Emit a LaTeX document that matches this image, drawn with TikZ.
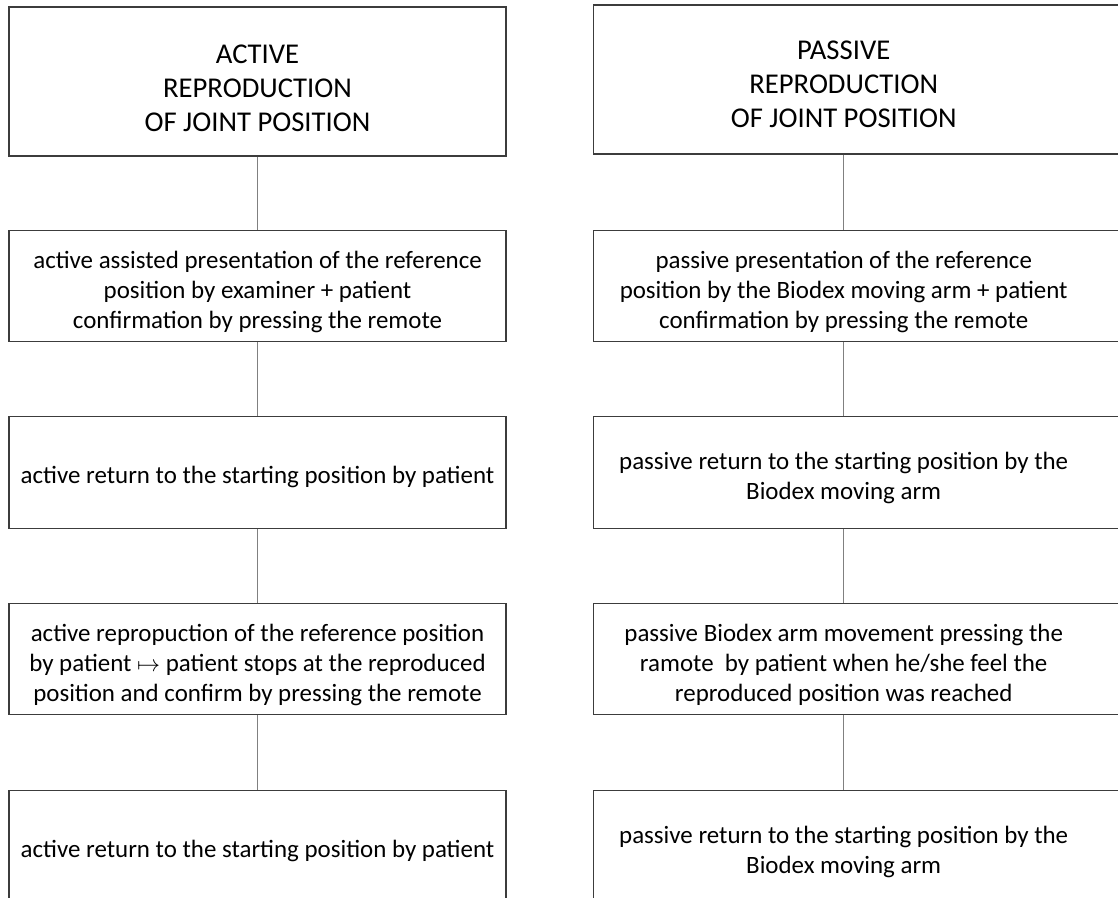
\documentclass[tikz,border=0pt]{standalone}
\usepackage{fontspec}
\setmainfont{Carlito}
\usepackage{xcolor}
\usetikzlibrary{positioning,calc}

\definecolor{boxgray}{HTML}{3C3C3C}
\definecolor{linkgray}{HTML}{808080}

\begin{document}
\begin{tikzpicture}[x=0.75pt,y=-0.75pt,
    stepbox/.style={rectangle, draw=boxgray, line width=0.9pt, inner sep=0pt,
        minimum width=372.75pt, minimum height=83.5pt},
    framebox/.style={stepbox, anchor=west, minimum width=410pt},
    steptext/.style={inner sep=0pt, align=center, font=\fontsize{18.7}{22.5}\selectfont},
    headtext/.style={steptext, font=\fontsize{21.5}{25.3}\selectfont},
    link/.style={draw=linkgray, line width=0.8pt}
]
    \useasboundingbox (0,0) rectangle (1118,897);
    \clip (0,0) rectangle (1118,897);

    % Active column
    \node[stepbox, minimum height=111.75pt] (a1) at (257.5, 81.5) {};
    \node[stepbox] (a2) at (257.5, 286) {};
    \node[stepbox] (a3) at (257.5, 472.5) {};
    \node[stepbox] (a4) at (257.5, 659) {};
    \node[stepbox] (a5) at (257.5, 846) {};
    \node[headtext] (s1) at (257.5, 88.5) {ACTIVE\\REPRODUCTION\\OF JOINT POSITION};
    \node[steptext] (s2) at (257.5, 291.5) {active assisted presentation of the reference\\position by examiner + patient\\confirmation by pressing the remote};
    \node[steptext] (s3) at (257.5, 477) {active return to the starting position by patient};
    \node[steptext] (s4) at (257.5, 664.5) {active repropuction of the reference position\\by patient $\mapsto$ patient stops at the reproduced\\position and confirm by pressing the remote};
    \node[steptext] (s5) at (257.5, 850.5) {active return to the starting position by patient};
    \draw[link] (a1) -- (a2);
    \draw[link] (a2) -- (a3);
    \draw[link] (a3) -- (a4);
    \draw[link] (a4) -- (a5);

    % Passive column
    \node[framebox, minimum height=111.75pt] (p1) at (593, 79.5) {};
    \node[framebox] (p2) at (593, 286) {};
    \node[framebox] (p3) at (593, 472.5) {};
    \node[framebox] (p4) at (593, 659) {};
    \node[framebox] (p5) at (593, 846) {};
    \node[headtext] (t1) at (843.7, 84.5) {PASSIVE\\REPRODUCTION\\OF JOINT POSITION};
    \node[steptext] (t2) at (843.7, 291.5) {passive presentation of the reference\\position by the Biodex moving arm + patient\\confirmation by pressing the remote};
    \node[steptext] (t3) at (843.7, 478) {passive return to the starting position by the\\Biodex moving arm};
    \node[steptext] (t4) at (843.7, 664.5) {passive Biodex arm movement pressing the\\ramote\ \ by patient when he/she feel the\\reproduced position was reached};
    \node[steptext] (t5) at (843.7, 851.5) {passive return to the starting position by the\\Biodex moving arm};
    \draw[link] (t1 |- p1.south) -- (t2 |- p2.north);
    \draw[link] (t2 |- p2.south) -- (t3 |- p3.north);
    \draw[link] (t3 |- p3.south) -- (t4 |- p4.north);
    \draw[link] (t4 |- p4.south) -- (t5 |- p5.north);
\end{tikzpicture}
\end{document}
